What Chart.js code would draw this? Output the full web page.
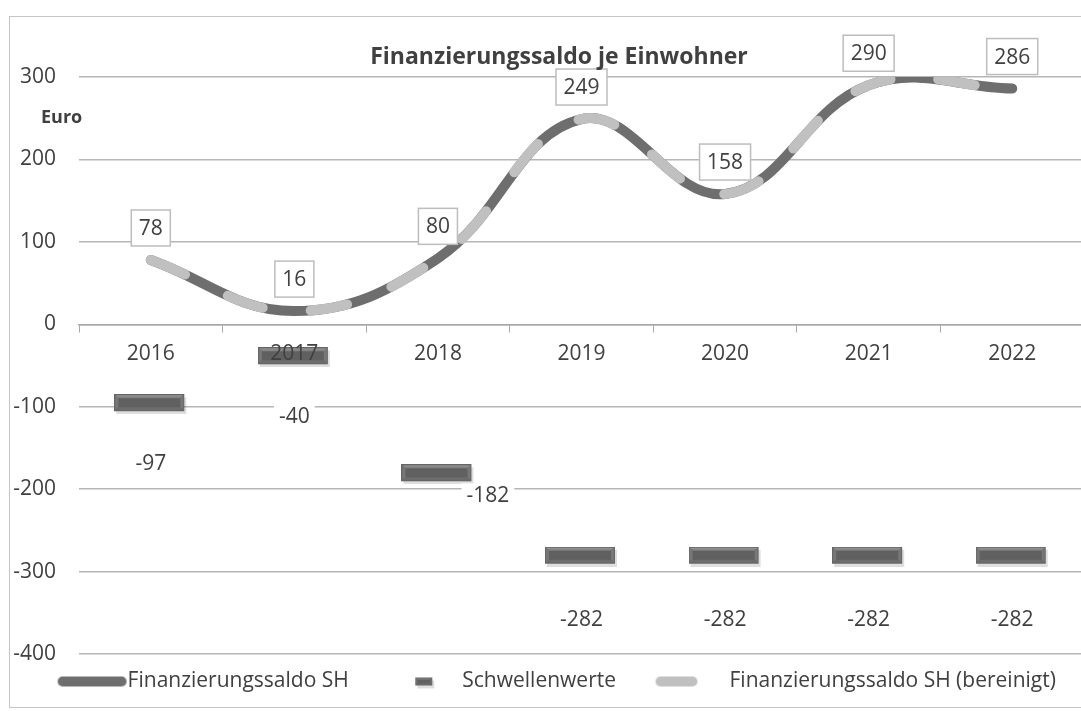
<!DOCTYPE html>
<html>
<head>
<meta charset="utf-8">
<script src="https://cdn.jsdelivr.net/npm/chart.js@4.4.1/dist/chart.umd.min.js"></script>
<style>
  html, body { margin: 0; padding: 0; background: #fff; overflow: hidden; }
  #frame { position: absolute; left: 9px; top: 16px; width: 1100px; height: 692px;
           border: 1.5px solid #c4c4c4; box-sizing: border-box; }
  #wrap { position: absolute; left: 0; top: 0; }
</style>
</head>
<body>
<div id="frame"></div>
<div id="wrap"><canvas id="saldoChart" width="1090" height="711"></canvas></div>
<script>
// Daten
const years = ['2016', '2017', '2018', '2019', '2020', '2021', '2022'];
const saldoSH = [78, 16, 80, 249, 158, 290, 286];
const saldoBereinigt = [78, 16, 80, 249, 158, 290, 286];
const schwellenwerte = [-97, -40, -182, -282, -282, -282, -282];
const yMin = -400, yMax = 300, yStep = 100;

const FONT = '"Open Sans", "Noto Sans", sans-serif';
const TEXT = '#404040';
const DARK = '#6e6e6e';
const LIGHT = '#c0c0c0';

// bevelled block used for the Schwellenwerte markers
function bevelBlock(w, h, b) {
  const c = document.createElement('canvas');
  c.width = w + 3; c.height = h + 3;
  const g = c.getContext('2d');
  g.fillStyle = 'rgba(0,0,0,0.13)';
  g.fillRect(2, 3, w, h);
  g.fillStyle = '#606060';
  g.fillRect(0, 0, w, h);
  // top bevel
  const tg = g.createLinearGradient(0, 0, 0, b);
  tg.addColorStop(0, '#a0a0a0');
  tg.addColorStop(1, '#7a7a7a');
  g.fillStyle = tg;
  g.beginPath(); g.moveTo(0, 0); g.lineTo(w, 0); g.lineTo(w - b, b); g.lineTo(b, b); g.closePath(); g.fill();
  // sides
  g.fillStyle = '#777';
  g.beginPath(); g.moveTo(0, 0); g.lineTo(b, b); g.lineTo(b, h - b); g.lineTo(0, h); g.closePath(); g.fill();
  g.beginPath(); g.moveTo(w, 0); g.lineTo(w - b, b); g.lineTo(w - b, h - b); g.lineTo(w, h); g.closePath(); g.fill();
  // bottom bevel
  g.fillStyle = '#6c6c6c';
  g.beginPath(); g.moveTo(0, h); g.lineTo(b, h - b); g.lineTo(w - b, h - b); g.lineTo(w, h); g.closePath(); g.fill();
  g.strokeStyle = '#666'; g.lineWidth = 1;
  g.strokeRect(0.5, 0.5, w - 1, h - 1);
  return c;
}

// legend samples (canvas 107 wide, sample drawn where it sits in the original)
function legendSample(kind) {
  const c = document.createElement('canvas');
  c.width = 107; c.height = 20;
  const g = c.getContext('2d');
  if (kind === 'dark' || kind === 'light') {
    g.strokeStyle = kind === 'dark' ? DARK : LIGHT;
    g.lineWidth = 10; g.lineCap = 'round';
    g.beginPath();
    if (kind === 'dark') { g.moveTo(42, 10); g.lineTo(101, 10); }
    else { g.moveTo(38, 10); g.lineTo(70, 10); }
    g.stroke();
  } else {
    g.drawImage(bevelBlock(17, 8, 2), 60, 6);
  }
  return c;
}

const markerImg = bevelBlock(70, 17, 4);

const labelPlugin = {
  id: 'labels',
  afterDatasetsDraw(chart) {
    const ctx = chart.ctx;
    ctx.save();
    ctx.font = '21px ' + FONT;
    ctx.textAlign = 'center';
    ctx.textBaseline = 'middle';
    // boxed labels above the Finanzierungssaldo line
    chart.getDatasetMeta(0).data.forEach((pt, i) => {
      const txt = String(saldoSH[i]);
      const w = ctx.measureText(txt).width + 15, h = 36;
      const cx = pt.x, cy = pt.y - 32;
      ctx.fillStyle = '#fff';
      ctx.fillRect(cx - w / 2, cy - h / 2, w, h);
      ctx.strokeStyle = '#bdbdbd'; ctx.lineWidth = 1.5;
      ctx.strokeRect(cx - w / 2, cy - h / 2, w, h);
      ctx.fillStyle = TEXT;
      ctx.fillText(txt, cx, cy + 1);
    });
    // labels below the Schwellenwerte
    const offs = [[0, 60], [0, 60], [50, 22], [0, 63], [0, 63], [0, 63], [0, 63]];
    chart.getDatasetMeta(2).data.forEach((pt, i) => {
      const txt = String(schwellenwerte[i]);
      const w = ctx.measureText(txt).width + 10;
      const cx = pt.x + offs[i][0], cy = pt.y + offs[i][1];
      ctx.fillStyle = '#fff';
      ctx.fillRect(cx - w / 2, cy - 13, w, 26);
      ctx.fillStyle = TEXT;
      ctx.fillText(txt, cx, cy);
    });
    ctx.restore();
  },
  afterDraw(chart) {
    const ctx = chart.ctx;
    ctx.save();
    ctx.fillStyle = TEXT;
    ctx.textBaseline = 'middle';
    ctx.textAlign = 'center';
    ctx.font = 'bold 23px ' + FONT;
    ctx.fillText('Finanzierungssaldo je Einwohner', 559, 57);
    ctx.textAlign = 'left';
    ctx.font = 'bold 18px ' + FONT;
    ctx.fillText('Euro', 41, 118);
    ctx.restore();
  }
};

const ctx = document.getElementById('saldoChart').getContext('2d');
new Chart(ctx, {
  type: 'line',
  data: {
    labels: years,
    datasets: [{
      label: 'Finanzierungssaldo SH',
      data: saldoSH,
      borderColor: DARK,
      borderWidth: 10,
      borderCapStyle: 'round',
      tension: 0.4,
      pointRadius: 0,
      order: 3
    }, {
      label: 'Finanzierungssaldo SH (bereinigt)',
      data: saldoBereinigt,
      borderColor: LIGHT,
      borderWidth: 10,
      borderCapStyle: 'round',
      borderDash: [37, 48],
      tension: 0.4,
      pointRadius: 0,
      order: 1
    }, {
      label: 'Schwellenwerte',
      data: schwellenwerte,
      showLine: false,
      pointStyle: markerImg,
      pointRadius: 5,
      order: 2
    }]
  },
  options: {
    responsive: false,
    animation: false,
    events: [],
    layout: { padding: { top: 77, right: 3, bottom: 9, left: 0 } },
    elements: { line: { capBezierPoints: false } },
    scales: {
      x: {
        position: { y: 0 },
        offset: true,
        z: 1,
        grid: { display: true, drawOnChartArea: false, offset: true, tickLength: 7, color: '#a8a8a8' },
        border: { display: true, color: '#a8a8a8', width: 1.5 },
        ticks: { z: 1, font: { family: FONT, size: 21 }, color: TEXT, padding: 10, maxRotation: 0 }
      },
      y: {
        min: yMin, max: yMax,
        ticks: { stepSize: yStep, font: { family: FONT, size: 21 }, color: TEXT, padding: 23 },
        grid: { color: '#b6b6b6', lineWidth: 1.5, drawTicks: false },
        border: { display: false },
        afterFit(scale) { scale.width = 79; }
      }
    },
    plugins: {
      tooltip: { enabled: false },
      legend: {
        position: 'bottom',
        labels: {
          usePointStyle: true,
          pointStyleWidth: 86,
          padding: 17,
          font: { family: FONT, size: 21 },
          color: TEXT,
          generateLabels: () => [
            { text: 'Finanzierungssaldo SH', pointStyle: legendSample('dark'), fontColor: TEXT, lineWidth: 0, datasetIndex: 0 },
            { text: 'Schwellenwerte', pointStyle: legendSample('marker'), fontColor: TEXT, lineWidth: 0, datasetIndex: 2 },
            { text: 'Finanzierungssaldo SH (bereinigt)', pointStyle: legendSample('light'), fontColor: TEXT, lineWidth: 0, datasetIndex: 1 }
          ]
        }
      }
    }
  },
  plugins: [labelPlugin]
});
</script>
</body>
</html>
